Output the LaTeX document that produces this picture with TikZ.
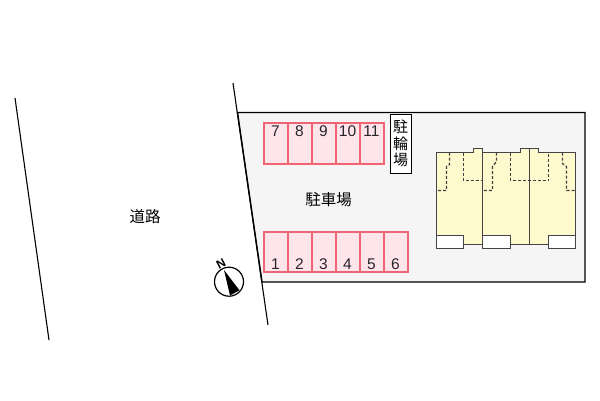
\documentclass[tikz,border=0pt]{standalone}
\usepackage{fontspec}
\setmainfont{Liberation Sans}
\newfontfamily\cjk{Noto Sans CJK JP}
\definecolor{lotfill}{HTML}{F5F5F5}
\definecolor{bayfill}{HTML}{FFE4EC}
\definecolor{bayline}{HTML}{EE6472}
\definecolor{bldfill}{HTML}{FFFACD}
\definecolor{bldline}{HTML}{444444}
\tikzset{
  bay/.style={draw=bayline,fill=bayfill,line width=1.2pt,inner sep=0pt,outer sep=0pt},
  baynum/.style={font=\fontsize{15.5}{15.5}\selectfont,text=black!85,inner sep=0pt},
  jp/.style={font=\cjk\fontsize{15.5}{16}\selectfont,text=black,inner sep=0pt},
  road/.style={draw=black,line width=1.1pt},
  wall/.style={draw=bldline,line width=1.4pt},
  plan/.style={draw=black!75,line width=1.3pt,dash pattern=on 3pt off 2pt},
  porch/.style={draw=bldline,fill=white,line width=1.4pt}
}
\begin{document}
\begin{tikzpicture}[x=1pt,y=-1pt]
\useasboundingbox (0,0) rectangle (600,400);
\fill[white] (0,0) rectangle (600,400);
% lot
\draw[draw=black,line width=1.4pt,fill=lotfill] (237.5,112.5) -- (585,112.5) -- (585,282) -- (262,282) -- cycle;
% road lines
\coordinate (rl1) at (15,98); \coordinate (rl2) at (49,340);
\coordinate (rr1) at (233,83); \coordinate (rr2) at (268,325);
\draw[road] (rl1) -- (rl2);
\draw[road] (rr1) -- (rr2);
% top bays
\foreach \x/\n in {264/7,288/8,312/9,336/10,360/11}{
  \draw[bay] (\x,123) rectangle (\x+24,164);
  \node[baynum] at (\x+11.5,131.5) {\n};
}
% bottom bays
\foreach \x/\n in {264/1,288/2,312/3,336/4,360/5,384/6}{
  \draw[bay] (\x,232) rectangle (\x+24,272);
  \node[baynum] at (\x+11.5,264.5) {\n};
}
% bicycle parking
\node[draw=black,fill=white,line width=1pt,minimum width=21pt,minimum height=59pt,inner sep=0pt,align=center,font=\cjk\fontsize{15}{16.7}\selectfont] (bike) at (400.5,143.5) {駐\\輪\\場};
\node[jp] (park) at (328.5,200) {駐車場};
\node[jp] (rd) at (145,217) {道路};
% building
\draw[wall,fill=bldfill] (436.5,152.5) -- (473.5,152.5) -- (473.5,148.5) -- (482.5,148.5) -- (482.5,152.5) -- (520.5,152.5) -- (520.5,148.5) -- (538.5,148.5) -- (538.5,152.5) -- (575.5,152.5) -- (575.5,244.5) -- (436.5,244.5) -- cycle;
\draw[wall] (482.5,152.5) -- (482.5,244.5);
\draw[wall] (529.5,148.5) -- (529.5,244.5);
\draw[plan] (449.5,152.5) -- (449.5,164.5) -- (446.5,166.5) -- (446.5,190.5) -- (436.5,190.5);
\draw[plan] (463.5,152.5) -- (463.5,180.5) -- (482.5,180.5);
\draw[plan] (496.5,152.5) -- (496.5,161.5) -- (492.5,166.5) -- (492.5,190.5) -- (482.5,190.5);
\draw[plan] (510.5,152.5) -- (510.5,180.5) -- (548.5,180.5) -- (548.5,152.5);
\draw[plan] (562.5,152.5) -- (562.5,163.5) -- (566.5,166.5) -- (566.5,190.5) -- (575.5,190.5);
\draw[porch] (436.5,235.5) rectangle (463.5,248.5);
\draw[porch] (482.5,235.5) rectangle (510.5,248.5);
\draw[porch] (548.5,235.5) rectangle (575.5,248.5);
% compass
\draw[black,line width=1.2pt,fill=white] (229,281.7) circle (14.5);
\fill[black] (224,270) -- (230,295.5) -- (239.5,290.3) -- cycle;
\node[font=\fontsize{12}{12}\selectfont\bfseries,rotate=28,inner sep=0pt] (north) at (221,263.5) {N};
\end{tikzpicture}
\end{document}
